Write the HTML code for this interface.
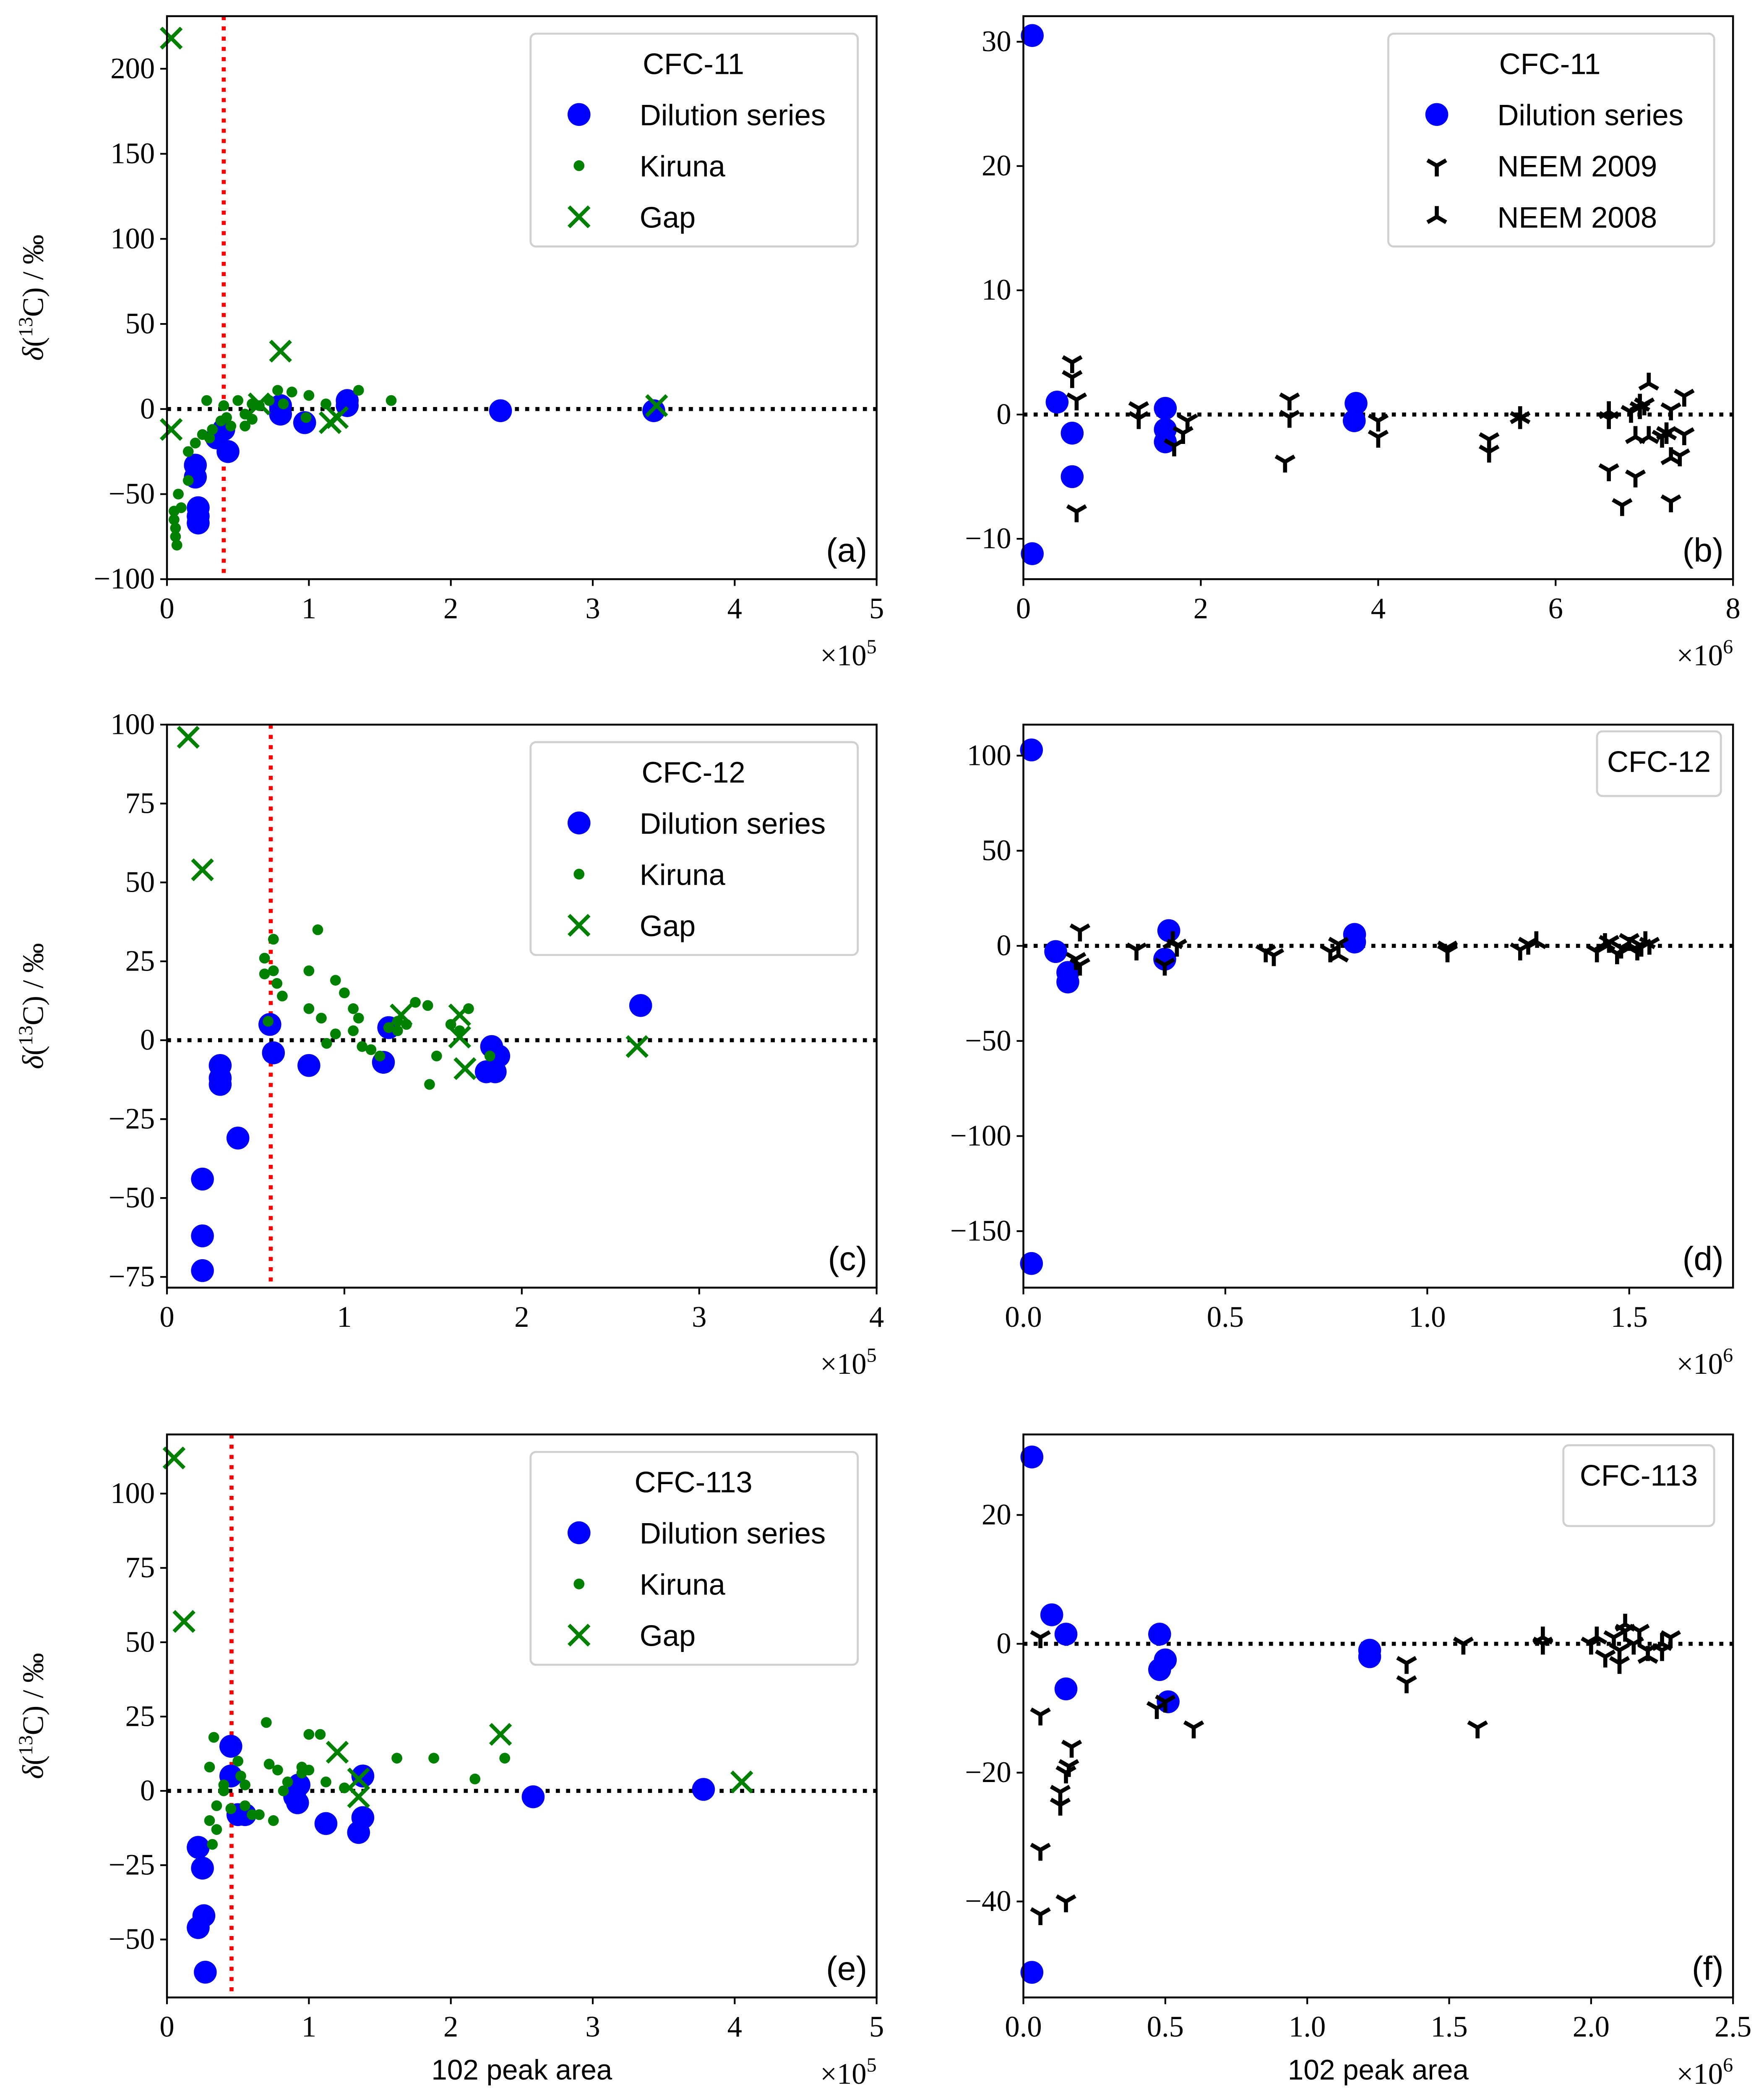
<!DOCTYPE html>
<html><head><meta charset="utf-8"><style>
html,body{margin:0;padding:0;background:#fff;width:4205px;height:5022px;overflow:hidden;}
svg{display:block;}
</style></head><body>
<svg id="fig" xmlns="http://www.w3.org/2000/svg" width="4205" height="5022" viewBox="0 0 1310 1564.5" preserveAspectRatio="none"></svg>
<script>
// ---- data (x in units of the multiplier) ----
const aDilX=[0.2,0.2,0.22,0.22,0.22,0.4,0.43,0.35,0.8,0.8,0.97,1.27,1.27,2.35,3.43];
const aDilY=[-33,-40,-58,-63,-67,-12,-25,-17,-3,2,-8,5,2,-1,-1];
const aKirX=[0.05,0.05,0.06,0.06,0.07,0.08,0.1,0.15,0.15,0.2,0.25,0.28,0.3,0.32,0.38,0.4,0.42,0.45,0.5,0.55,0.55,0.6,0.65,0.72,0.78,0.82,0.88,1.0,0.98,1.12,1.35,1.58,0.6];
const aKirY=[-60,-65,-70,-75,-80,-50,-58,-42,-25,-20,-15,5,-17,-12,-7,2,-5,-10,5,-3,-10,3,2,5,11,3,10,8,-5,3,11,5,-6];
const aGapX=[0.03,0.03,0.8,0.65,1.15,1.2,3.45];
const aGapY=[218,-12,34,3,-8,-5,2];

const bDilX=[0.1,0.1,0.38,0.55,0.55,1.6,1.6,1.6,3.75,3.73];
const bDilY=[30.5,-11.2,1,-1.5,-5,0.5,-1.2,-2.2,0.9,-0.5];
const bN09X=[0.55,0.55,0.6,0.6,1.3,1.3,1.7,1.8,1.85,3.0,3.0,2.95,4.0,4.0,5.25,5.25,5.6,6.6,6.75,6.9,6.95,7.0,6.85,7.25,7.3,7.4,7.45,7.45,7.2,7.3,6.6];
const bN09Y=[4.2,3,1.2,-7.8,0.5,-0.3,-2.5,-1.5,-0.5,1.2,-0.2,-3.8,-0.5,-1.8,-2,-3,-0.3,-4.5,-7.3,-5,0.5,0.8,0.2,-1.5,-7,-3.3,1.5,-1.6,-1.8,0.4,-0.3];
const bN08X=[6.6,6.9,7.05,7.05,7.3,7.25,5.6,6.95];
const bN08Y=[0.2,-1.8,-1.8,2.5,-3.5,-1.5,-0.2,0.8];

const cDilX=[0.2,0.2,0.2,0.3,0.3,0.3,0.4,0.58,0.6,0.8,1.22,1.25,1.8,1.83,1.85,1.87,2.67];
const cDilY=[-44,-62,-73,-8,-12,-14,-31,5,-4,-8,-7,4,-10,-2,-10,-5,11];
const cKirX=[0.55,0.55,0.57,0.6,0.6,0.62,0.65,0.8,0.8,0.85,0.87,0.9,0.95,0.95,1.0,1.05,1.05,1.08,1.1,1.15,1.2,1.25,1.3,1.35,1.4,1.47,1.48,1.52,1.6,1.65,1.7,1.82,1.3];
const cKirY=[26,21,6,32,22,18,14,22,10,35,7,-1,2,19,15,3,10,7,-2,-3,-5,4,6,5,12,11,-14,-5,5,3,10,-5,3];
const cGapX=[0.12,0.2,1.32,1.65,1.65,1.68,2.65];
const cGapY=[96,54,8,8,1,-9,-2];

const dDilX=[0.02,0.02,0.08,0.11,0.11,0.35,0.36,0.82,0.82];
const dDilY=[103,-167,-3,-14,-19,-7,8,6,2];
const dN09X=[0.14,0.13,0.14,0.28,0.35,0.38,0.6,0.62,0.76,0.78,1.05,1.05,1.23,1.25,1.42,1.45,1.48,1.5,1.52,1.55,1.47,1.53];
const dN09Y=[8,-7,-10,-2,-10,0,-3,-5,-3,1,-1,-3,-2,1,-3,2,-1,3,-2,1,-4,0];
const dN08X=[0.78,1.27,1.44,1.5,1.54,0.37];
const dN08Y=[-5,2,1,-1,2,2];

const eDilX=[0.22,0.25,0.22,0.26,0.27,0.45,0.45,0.5,0.55,0.9,0.92,0.93,1.12,1.35,1.38,1.38,2.58,3.78];
const eDilY=[-19,-26,-46,-42,-61,15,5,-8,-8,-2,-4,2,-11,-14,-9,5,-2,0.5];
const eKirX=[0.3,0.33,0.3,0.32,0.35,0.35,0.4,0.4,0.45,0.5,0.52,0.55,0.6,0.65,0.7,0.72,0.75,0.78,0.82,0.85,0.95,0.95,1.0,1.0,1.08,1.12,1.25,1.62,1.88,2.17,2.38,0.55];
const eKirY=[8,18,-10,-18,-13,-5,0,2,-6,10,5,2,-8,-8,23,9,-10,7,0,3,8,6,19,7,19,3,1,11,11,4,11,-5];
const eGapX=[0.05,0.12,1.2,1.35,1.35,2.35,4.05];
const eGapY=[112,57,13,4,-2,19,3];

const fDilX=[0.03,0.03,0.1,0.15,0.15,0.48,0.5,0.48,0.51,1.22,1.22];
const fDilY=[29,-51,4.5,1.5,-7,1.5,-2.5,-4,-9,-1,-2];
const fN09X=[0.06,0.06,0.06,0.06,0.13,0.13,0.15,0.17,0.16,0.15,0.47,0.5,0.6,1.35,1.35,1.55,1.6,1.83,2.0,2.05,2.08,2.1,2.12,2.15,2.2,2.25,2.28,2.1,2.17];
const fN09Y=[1,-11,-32,-42,-23,-25,-20,-16,-19,-40,-10,-9,-13,-3,-6,0,-13,0,0,-2,1,-3,2,0,-1,-1,1,-1,2];
const fN08X=[1.83,2.02,2.12,2.2,2.25];
const fN08Y=[1,1,3,-2,0];

const aXTicks=[0,1,2,3,4,5], aYTicks=[-100,-50,0,50,100,150,200];
const bXTicks=[0,2,4,6,8], bYTicks=[-10,0,10,20,30];
const cXTicks=[0,1,2,3,4], cYTicks=[-75,-50,-25,0,25,50,75,100];
const dXTicks=[0,0.5,1.0,1.5], dYTicks=[-150,-100,-50,0,50,100];
const eXTicks=[0,1,2,3,4,5], eYTicks=[-50,-25,0,25,50,75,100];
const fXTicks=[0,0.5,1.0,1.5,2.0,2.5], fYTicks=[-40,-20,0,20];

const NS="http://www.w3.org/2000/svg";
const svg=document.getElementById('fig');
function mk(tag,attrs,parent){const e=document.createElementNS(NS,tag);for(const k in attrs)e.setAttribute(k,attrs[k]);(parent||svg).appendChild(e);return e;}

function panel(p){
  const g=mk('g',{});
  
  
  const X=v=>p.L+(v-p.x0)/(p.x1-p.x0)*(p.R-p.L);
  const Y=v=>p.B-(v-p.y0)/(p.y1-p.y0)*(p.B-p.T);
  const z=mk('line',{x1:p.L,x2:p.R,y1:Y(0),y2:Y(0),stroke:'#000','stroke-width':3,'stroke-dasharray':'3,4.6'},g);
  
  
  if(p.vline!==undefined){
    const v=mk('line',{x1:X(p.vline),x2:X(p.vline),y1:p.T,y2:p.B,stroke:'#ff0000','stroke-width':3,'stroke-dasharray':'3,4.6'},g);
    
    
  }
  p.series.forEach(s=>{
    const sg=mk('g',{},g);
    
    
    for(let i=0;i<s.x.length;i++){
      drawMarker(sg,s.type,X(s.x[i]),Y(s.y[i]));
    }
  });
  const fr=mk('rect',{x:p.L,y:p.T,width:p.R-p.L,height:p.B-p.T,fill:'none',stroke:'#000','stroke-width':1.4},g);
  
  
  p.xt.forEach(t=>{
    const x=X(t);
    mk('line',{x1:x,x2:x,y1:p.B,y2:p.B+5,stroke:'#000','stroke-width':1.3},g);
    const tx=mk('text',{x:x,y:p.B+29,'text-anchor':'middle','font-size':22,'font-family':'Liberation Serif, serif'},g);
    tx.textContent=p.xfmt?t.toFixed(1):String(t);
    
    
  });
  p.yt.forEach(t=>{
    const y=Y(t);
    mk('line',{x1:p.L-5,x2:p.L,y1:y,y2:y,stroke:'#000','stroke-width':1.3},g);
    const tx=mk('text',{x:p.L-9,y:y+7,'text-anchor':'end','font-size':22,'font-family':'Liberation Serif, serif'},g);
    tx.textContent=(t<0?'\u2212'+(-t):String(t));
    
    
  });
  const m=mk('text',{x:p.R,y:p.B+64,'text-anchor':'end','font-size':22,'font-family':'Liberation Serif, serif'},g);
  m.innerHTML='\u00d710<tspan dy="-9" font-size="15">'+p.exp+'</tspan>';
  
  
  const l=mk('text',{x:p.R-7,y:p.B-13,'text-anchor':'end','font-size':25,'font-family':'Liberation Sans, sans-serif'},g);
  l.textContent='('+p.id+')';
  
  
  if(p.ytitle){
    const yt=mk('text',{transform:`translate(32,${(p.T+p.B)/2}) rotate(-90)`,'text-anchor':'middle','font-size':22,'font-family':'Liberation Serif, serif'},g);
    yt.innerHTML='<tspan font-style="italic">\u03b4</tspan>(<tspan dy="-8" font-size="15">13</tspan><tspan dy="8">C) / \u2030</tspan>';
    
    
  }
  if(p.xtitle){
    const xt=mk('text',{x:(p.L+p.R)/2,y:p.B+61,'text-anchor':'middle','font-size':21,'font-family':'Liberation Sans, sans-serif'},g);
    xt.textContent='102 peak area';
    
    
  }
  if(p.legend){
    const lg=p.legend;
    const lgg=mk('g',{},g);
    
    
    mk('rect',{x:lg.x,y:lg.y,width:lg.w,height:lg.h,rx:4,fill:'#fff',stroke:'#d0d0d0','stroke-width':1.5},lgg);
    const tt=mk('text',{x:lg.tx,y:lg.y+30,'text-anchor':'middle','font-size':22,'font-family':'Liberation Sans, sans-serif'},lgg);
    tt.textContent=lg.title;
    
    
    (lg.entries||[]).forEach((en,i)=>{
      const yy=lg.y+60+38*i;
      const eg=mk('g',{},lgg);
      
      
      drawMarker(eg,en.type,lg.x+36,yy);
      const et=mk('text',{x:lg.x+81,y:yy+8,'font-size':22,'font-family':'Liberation Sans, sans-serif'},eg);
      et.textContent=en.label;
    });
  }
}
function drawMarker(g,type,x,y){
  if(type==='dil'){mk('circle',{cx:x,cy:y,r:8.5,fill:'#0000ff'},g);}
  else if(type==='kir'){mk('circle',{cx:x,cy:y,r:4,fill:'#008000'},g);}
  else if(type==='gap'){const s=7.5;mk('path',{d:`M${x-s},${y-s}L${x+s},${y+s}M${x-s},${y+s}L${x+s},${y-s}`,stroke:'#008000','stroke-width':2.8,fill:'none'},g);}
  else if(type==='n09'){const s=8;mk('path',{d:`M${x},${y}L${x},${y+s}M${x},${y}L${x-s*0.87},${y-s*0.5}M${x},${y}L${x+s*0.87},${y-s*0.5}`,stroke:'#000','stroke-width':3,fill:'none'},g);}
  else if(type==='n08'){const s=8;mk('path',{d:`M${x},${y}L${x},${y-s}M${x},${y}L${x-s*0.87},${y+s*0.5}M${x},${y}L${x+s*0.87},${y+s*0.5}`,stroke:'#000','stroke-width':3,fill:'none'},g);}
}
const L1=124,R1=651,L2=760,R2=1287;
const legKir=[{type:'dil',label:'Dilution series'},{type:'kir',label:'Kiruna'},{type:'gap',label:'Gap'}];
const legNeem=[{type:'dil',label:'Dilution series'},{type:'n09',label:'NEEM 2009'},{type:'n08',label:'NEEM 2008'}];

panel({id:'a',L:L1,R:R1,T:12,B:430,x0:0,x1:5,y0:-100,y1:230.9,xt:aXTicks,yt:aYTicks,exp:5,vline:0.4,ytitle:true,
  series:[{name:'dilution-series',type:'dil',x:aDilX,y:aDilY},{name:'kiruna-series',type:'kir',x:aKirX,y:aKirY},{name:'gap-series',type:'gap',x:aGapX,y:aGapY}],
  legend:{x:394,y:25,w:243,h:158,tx:515,title:'CFC-11',entries:legKir}});
panel({id:'b',L:L2,R:R2,T:12,B:430,x0:0,x1:8,y0:-13.25,y1:32.06,xt:bXTicks,yt:bYTicks,exp:6,
  series:[{name:'dilution-series',type:'dil',x:bDilX,y:bDilY},{name:'neem-2009-series',type:'n09',x:bN09X,y:bN09Y},{name:'neem-2008-series',type:'n08',x:bN08X,y:bN08Y}],
  legend:{x:1031,y:25,w:242,h:158,tx:1151,title:'CFC-11',entries:legNeem}});
panel({id:'c',L:L1,R:R1,T:538,B:956,x0:0,x1:4,y0:-78.4,y1:100,xt:cXTicks,yt:cYTicks,exp:5,vline:0.585,ytitle:true,
  series:[{name:'dilution-series',type:'dil',x:cDilX,y:cDilY},{name:'kiruna-series',type:'kir',x:cKirX,y:cKirY},{name:'gap-series',type:'gap',x:cGapX,y:cGapY}],
  legend:{x:394,y:551,w:243,h:158,tx:515,title:'CFC-12',entries:legKir}});
panel({id:'d',L:L2,R:R2,T:538,B:956,x0:0,x1:1.757,y0:-179.7,y1:116.3,xt:dXTicks,yt:dYTicks,exp:6,xfmt:true,
  series:[{name:'dilution-series',type:'dil',x:dDilX,y:dDilY},{name:'neem-2009-series',type:'n09',x:dN09X,y:dN09Y},{name:'neem-2008-series',type:'n08',x:dN08X,y:dN08Y}],
  legend:{x:1186,y:543,w:92,h:48,tx:1232,title:'CFC-12'}});
panel({id:'e',L:L1,R:R1,T:1065,B:1483,x0:0,x1:5,y0:-69.5,y1:119.9,xt:eXTicks,yt:eYTicks,exp:5,vline:0.455,ytitle:true,xtitle:true,
  series:[{name:'dilution-series',type:'dil',x:eDilX,y:eDilY},{name:'kiruna-series',type:'kir',x:eKirX,y:eKirY},{name:'gap-series',type:'gap',x:eGapX,y:eGapY}],
  legend:{x:394,y:1078,w:243,h:158,tx:515,title:'CFC-113',entries:legKir}});
panel({id:'f',L:L2,R:R2,T:1065,B:1483,x0:0,x1:2.5,y0:-54.9,y1:32.5,xt:fXTicks,yt:fYTicks,exp:6,xfmt:true,xtitle:true,
  series:[{name:'dilution-series',type:'dil',x:fDilX,y:fDilY},{name:'neem-2009-series',type:'n09',x:fN09X,y:fN09Y},{name:'neem-2008-series',type:'n08',x:fN08X,y:fN08Y}],
  legend:{x:1161,y:1073,w:112,h:60,tx:1217,title:'CFC-113'}});
</script>
</body></html>
